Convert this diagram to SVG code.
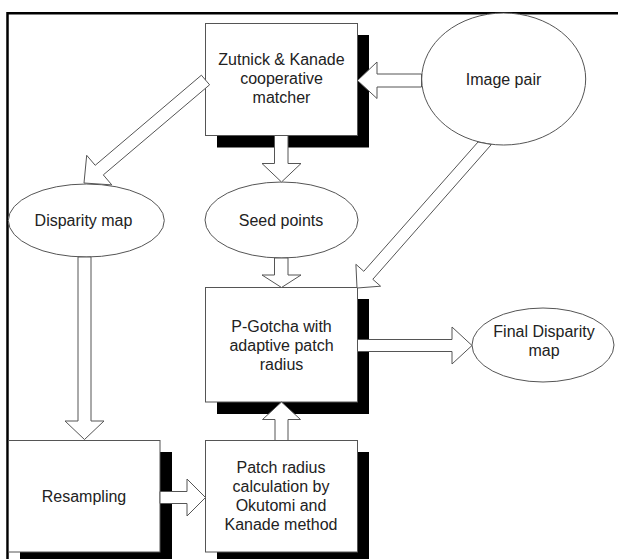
<svg xmlns="http://www.w3.org/2000/svg" width="618" height="559" viewBox="0 0 618 559">
<style>
.box{fill:#fff;stroke:#555;stroke-width:1}
.sh{fill:#000}
.ell{fill:#fff;stroke:#555;stroke-width:1}
.arr{fill:#fff;stroke:#555;stroke-width:1;stroke-linejoin:miter}
.t{font-family:"Liberation Sans",Arial,sans-serif;font-size:16px;fill:#222;text-anchor:middle}
</style>
<rect x="0" y="0" width="618" height="559" fill="#fff"/>
<polyline points="7.5,559 7.5,13.3 618,13.3" fill="none" stroke="#000" stroke-width="2.5"/>
<g id="zutnick">
<rect class="sh" x="217" y="35" width="152" height="112.5"/>
<rect class="box" x="205.5" y="23.5" width="152" height="112"/>
<text class="t" x="281.5" y="65">Zutnick &amp; Kanade</text>
<text class="t" x="281.5" y="84">cooperative</text>
<text class="t" x="281.5" y="103">matcher</text>
</g>
<g id="imagepair">
<ellipse class="ell" cx="503.7" cy="79" rx="82" ry="66"/>
<text class="t" x="503.5" y="85">Image pair</text>
</g>
<g id="disparity">
<ellipse class="ell" cx="86.3" cy="220.5" rx="78" ry="36.5"/>
<text class="t" x="83.5" y="225.5">Disparity map</text>
</g>
<g id="seed">
<ellipse class="ell" cx="281.5" cy="220" rx="76.5" ry="38"/>
<text class="t" x="281" y="225.5">Seed points</text>
</g>
<g id="pgotcha">
<rect class="sh" x="217" y="299" width="152" height="115"/>
<rect class="box" x="205.5" y="287.5" width="152" height="114.5"/>
<text class="t" x="281.5" y="331.5">P-Gotcha with</text>
<text class="t" x="281.5" y="350.5">adaptive patch</text>
<text class="t" x="281.5" y="369.5">radius</text>
</g>
<g id="final">
<ellipse class="ell" cx="543" cy="345" rx="71" ry="37"/>
<text class="t" x="544" y="337">Final Disparity</text>
<text class="t" x="544" y="356">map</text>
</g>
<g id="resampling">
<rect class="sh" x="20" y="452" width="152" height="112"/>
<rect class="box" x="8.5" y="440.5" width="151.5" height="111.5"/>
<text class="t" x="84" y="502">Resampling</text>
</g>
<g id="patch">
<rect class="sh" x="217" y="452" width="152" height="112"/>
<rect class="box" x="205.5" y="440.5" width="152" height="111.5"/>
<text class="t" x="281" y="473">Patch radius</text>
<text class="t" x="281" y="492">calculation by</text>
<text class="t" x="281" y="511">Okutomi and</text>
<text class="t" x="281" y="530">Kanade method</text>
</g>
<g id="connectors">
<polygon class="arr" points="421.5,74 377,74 377,62 357.5,80.5 377,98.5 377,87 421.5,87"/>
<polygon class="arr" points="274.5,135.5 274.5,163.5 262,163.5 281.5,182 301,163.5 288,163.5 288,135.5"/>
<polygon class="arr" points="201.4,75.2 95.2,165.3 86.7,155.3 84,183 111.8,184.9 103.3,174.9 209.6,84.8"/>
<polygon class="arr" points="478,142 363.8,271.3 355.9,264.3 357,288 380.6,286.2 372.8,279.3 491.4,144.5"/>
<polygon class="arr" points="274.5,258 274.5,275 262,275 281.5,287.5 301,275 288,275 288,258"/>
<polygon class="arr" points="78,257 78,421 65,421 84.5,439.5 104,421 91,421 91,257"/>
<polygon class="arr" points="357.5,339.5 452,339.5 452,327 472,345.5 452,364 452,351.5 357.5,351.5"/>
<polygon class="arr" points="160,491.5 187,491.5 187,479 205.5,497.5 187,516 187,503.5 160,503.5"/>
<polygon class="arr" points="275,440.5 275,419.5 262.5,419.5 281.5,402 300.5,419.5 288,419.5 288,440.5"/>
</g>
</svg>
